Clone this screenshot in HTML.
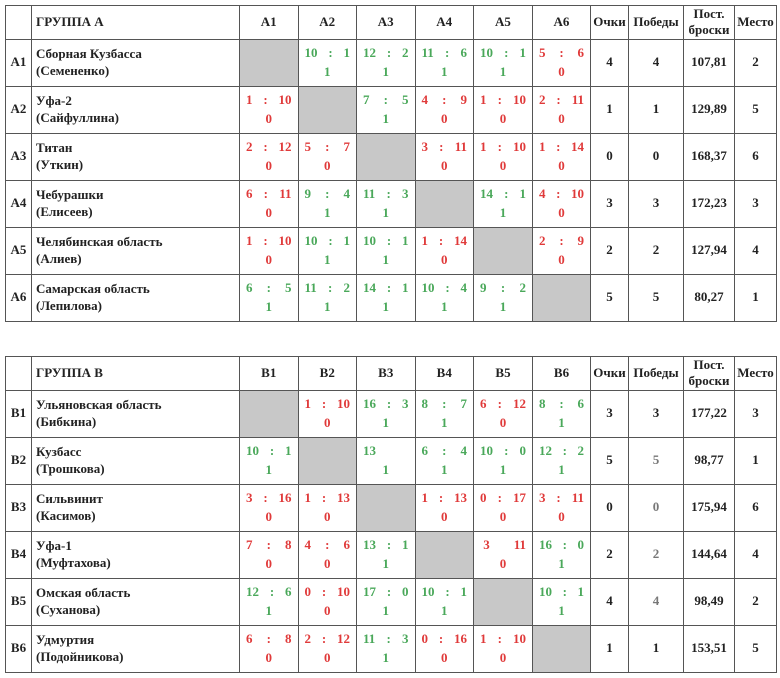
<!DOCTYPE html><html><head><meta charset="utf-8"><style>
body{margin:0;background:#fff;width:780px;height:678px;position:relative;font-family:"Liberation Serif","DejaVu Serif",serif;font-weight:bold;font-size:13px;color:#222}
table{position:absolute;left:5px;border-collapse:collapse;table-layout:fixed;width:771px}
td{border:1.5px solid #555;padding:0;text-align:center;vertical-align:middle;height:46px;line-height:1.25}
tr.h td{height:31px}
td.n{text-align:left;padding-left:4px}
td.x{background:#c8c8c8}
.s{display:flex;justify-content:space-between;padding:0 6px;height:20px;align-items:center}
.r{height:18px}
td.g{color:#4aa85a}td.r{color:#e03a3a}
.gr{color:#777}
</style></head><body>
<table style="top:5px">
<colgroup><col style="width:26px"><col style="width:208px"><col style="width:58.5px"><col style="width:58.5px"><col style="width:58.5px"><col style="width:58.5px"><col style="width:59px"><col style="width:58px"><col style="width:38px"><col style="width:55px"><col style="width:51px"><col style="width:42px"></colgroup>
<tr class="h"><td></td><td class="n">ГРУППА А</td><td>А1</td><td>А2</td><td>А3</td><td>А4</td><td>А5</td><td>А6</td><td>Очки</td><td>Победы</td><td>Пост.<br>броски</td><td>Место</td></tr>
<tr><td>А1</td><td class="n">Сборная Кузбасса<br>(Семененко)</td><td class="x"></td>
<td class="g"><div class="s"><span>10</span><span>:</span><span>1</span></div><div class="r">1</div></td>
<td class="g"><div class="s"><span>12</span><span>:</span><span>2</span></div><div class="r">1</div></td>
<td class="g"><div class="s"><span>11</span><span>:</span><span>6</span></div><div class="r">1</div></td>
<td class="g"><div class="s"><span>10</span><span>:</span><span>1</span></div><div class="r">1</div></td>
<td class="r"><div class="s"><span>5</span><span>:</span><span>6</span></div><div class="r">0</div></td>
<td>4</td><td>4</td><td>107,81</td><td>2</td></tr>
<tr><td>А2</td><td class="n">Уфа-2<br>(Сайфуллина)</td>
<td class="r"><div class="s"><span>1</span><span>:</span><span>10</span></div><div class="r">0</div></td><td class="x"></td>
<td class="g"><div class="s"><span>7</span><span>:</span><span>5</span></div><div class="r">1</div></td>
<td class="r"><div class="s"><span>4</span><span>:</span><span>9</span></div><div class="r">0</div></td>
<td class="r"><div class="s"><span>1</span><span>:</span><span>10</span></div><div class="r">0</div></td>
<td class="r"><div class="s"><span>2</span><span>:</span><span>11</span></div><div class="r">0</div></td>
<td>1</td><td>1</td><td>129,89</td><td>5</td></tr>
<tr><td>А3</td><td class="n">Титан<br>(Уткин)</td>
<td class="r"><div class="s"><span>2</span><span>:</span><span>12</span></div><div class="r">0</div></td>
<td class="r"><div class="s"><span>5</span><span>:</span><span>7</span></div><div class="r">0</div></td><td class="x"></td>
<td class="r"><div class="s"><span>3</span><span>:</span><span>11</span></div><div class="r">0</div></td>
<td class="r"><div class="s"><span>1</span><span>:</span><span>10</span></div><div class="r">0</div></td>
<td class="r"><div class="s"><span>1</span><span>:</span><span>14</span></div><div class="r">0</div></td>
<td>0</td><td>0</td><td>168,37</td><td>6</td></tr>
<tr><td>А4</td><td class="n">Чебурашки<br>(Елисеев)</td>
<td class="r"><div class="s"><span>6</span><span>:</span><span>11</span></div><div class="r">0</div></td>
<td class="g"><div class="s"><span>9</span><span>:</span><span>4</span></div><div class="r">1</div></td>
<td class="g"><div class="s"><span>11</span><span>:</span><span>3</span></div><div class="r">1</div></td><td class="x"></td>
<td class="g"><div class="s"><span>14</span><span>:</span><span>1</span></div><div class="r">1</div></td>
<td class="r"><div class="s"><span>4</span><span>:</span><span>10</span></div><div class="r">0</div></td>
<td>3</td><td>3</td><td>172,23</td><td>3</td></tr>
<tr><td>А5</td><td class="n">Челябинская область<br>(Алиев)</td>
<td class="r"><div class="s"><span>1</span><span>:</span><span>10</span></div><div class="r">0</div></td>
<td class="g"><div class="s"><span>10</span><span>:</span><span>1</span></div><div class="r">1</div></td>
<td class="g"><div class="s"><span>10</span><span>:</span><span>1</span></div><div class="r">1</div></td>
<td class="r"><div class="s"><span>1</span><span>:</span><span>14</span></div><div class="r">0</div></td><td class="x"></td>
<td class="r"><div class="s"><span>2</span><span>:</span><span>9</span></div><div class="r">0</div></td>
<td>2</td><td>2</td><td>127,94</td><td>4</td></tr>
<tr><td>А6</td><td class="n">Самарская область<br>(Лепилова)</td>
<td class="g"><div class="s"><span>6</span><span>:</span><span>5</span></div><div class="r">1</div></td>
<td class="g"><div class="s"><span>11</span><span>:</span><span>2</span></div><div class="r">1</div></td>
<td class="g"><div class="s"><span>14</span><span>:</span><span>1</span></div><div class="r">1</div></td>
<td class="g"><div class="s"><span>10</span><span>:</span><span>4</span></div><div class="r">1</div></td>
<td class="g"><div class="s"><span>9</span><span>:</span><span>2</span></div><div class="r">1</div></td><td class="x"></td>
<td>5</td><td>5</td><td>80,27</td><td>1</td></tr>
</table>

<table style="top:356px">
<colgroup><col style="width:26px"><col style="width:208px"><col style="width:58.5px"><col style="width:58.5px"><col style="width:58.5px"><col style="width:58.5px"><col style="width:59px"><col style="width:58px"><col style="width:38px"><col style="width:55px"><col style="width:51px"><col style="width:42px"></colgroup>
<tr class="h"><td></td><td class="n">ГРУППА В</td><td>В1</td><td>В2</td><td>В3</td><td>В4</td><td>В5</td><td>В6</td><td>Очки</td><td>Победы</td><td>Пост.<br>броски</td><td>Место</td></tr>
<tr><td>В1</td><td class="n">Ульяновская область<br>(Бибкина)</td><td class="x"></td>
<td class="r"><div class="s"><span>1</span><span>:</span><span>10</span></div><div class="r">0</div></td>
<td class="g"><div class="s"><span>16</span><span>:</span><span>3</span></div><div class="r">1</div></td>
<td class="g"><div class="s"><span>8</span><span>:</span><span>7</span></div><div class="r">1</div></td>
<td class="r"><div class="s"><span>6</span><span>:</span><span>12</span></div><div class="r">0</div></td>
<td class="g"><div class="s"><span>8</span><span>:</span><span>6</span></div><div class="r">1</div></td>
<td>3</td><td>3</td><td>177,22</td><td>3</td></tr>
<tr><td>В2</td><td class="n">Кузбасс<br>(Трошкова)</td>
<td class="g"><div class="s"><span>10</span><span>:</span><span>1</span></div><div class="r">1</div></td><td class="x"></td>
<td class="g"><div class="s"><span>13</span><span></span><span></span></div><div class="r">1</div></td>
<td class="g"><div class="s"><span>6</span><span>:</span><span>4</span></div><div class="r">1</div></td>
<td class="g"><div class="s"><span>10</span><span>:</span><span>0</span></div><div class="r">1</div></td>
<td class="g"><div class="s"><span>12</span><span>:</span><span>2</span></div><div class="r">1</div></td>
<td>5</td><td class="gr">5</td><td>98,77</td><td>1</td></tr>
<tr><td>В3</td><td class="n">Сильвинит<br>(Касимов)</td>
<td class="r"><div class="s"><span>3</span><span>:</span><span>16</span></div><div class="r">0</div></td>
<td class="r"><div class="s"><span>1</span><span>:</span><span>13</span></div><div class="r">0</div></td><td class="x"></td>
<td class="r"><div class="s"><span>1</span><span>:</span><span>13</span></div><div class="r">0</div></td>
<td class="r"><div class="s"><span>0</span><span>:</span><span>17</span></div><div class="r">0</div></td>
<td class="r"><div class="s"><span>3</span><span>:</span><span>11</span></div><div class="r">0</div></td>
<td>0</td><td class="gr">0</td><td>175,94</td><td>6</td></tr>
<tr><td>В4</td><td class="n">Уфа-1<br>(Муфтахова)</td>
<td class="r"><div class="s"><span>7</span><span>:</span><span>8</span></div><div class="r">0</div></td>
<td class="r"><div class="s"><span>4</span><span>:</span><span>6</span></div><div class="r">0</div></td>
<td class="g"><div class="s"><span>13</span><span>:</span><span>1</span></div><div class="r">1</div></td><td class="x"></td>
<td class="r"><div class="s"><span>&nbsp;3</span><span></span><span>11</span></div><div class="r">0</div></td>
<td class="g"><div class="s"><span>16</span><span>:</span><span>0</span></div><div class="r">1</div></td>
<td>2</td><td class="gr">2</td><td>144,64</td><td>4</td></tr>
<tr><td>В5</td><td class="n">Омская область<br>(Суханова)</td>
<td class="g"><div class="s"><span>12</span><span>:</span><span>6</span></div><div class="r">1</div></td>
<td class="r"><div class="s"><span>0</span><span>:</span><span>10</span></div><div class="r">0</div></td>
<td class="g"><div class="s"><span>17</span><span>:</span><span>0</span></div><div class="r">1</div></td>
<td class="g"><div class="s"><span>10</span><span>:</span><span>1</span></div><div class="r">1</div></td><td class="x"></td>
<td class="g"><div class="s"><span>10</span><span>:</span><span>1</span></div><div class="r">1</div></td>
<td>4</td><td class="gr">4</td><td>98,49</td><td>2</td></tr>
<tr><td>В6</td><td class="n">Удмуртия<br>(Подойникова)</td>
<td class="r"><div class="s"><span>6</span><span>:</span><span>8</span></div><div class="r">0</div></td>
<td class="r"><div class="s"><span>2</span><span>:</span><span>12</span></div><div class="r">0</div></td>
<td class="g"><div class="s"><span>11</span><span>:</span><span>3</span></div><div class="r">1</div></td>
<td class="r"><div class="s"><span>0</span><span>:</span><span>16</span></div><div class="r">0</div></td>
<td class="r"><div class="s"><span>1</span><span>:</span><span>10</span></div><div class="r">0</div></td><td class="x"></td>
<td>1</td><td>1</td><td>153,51</td><td>5</td></tr>
</table>
</body></html>
